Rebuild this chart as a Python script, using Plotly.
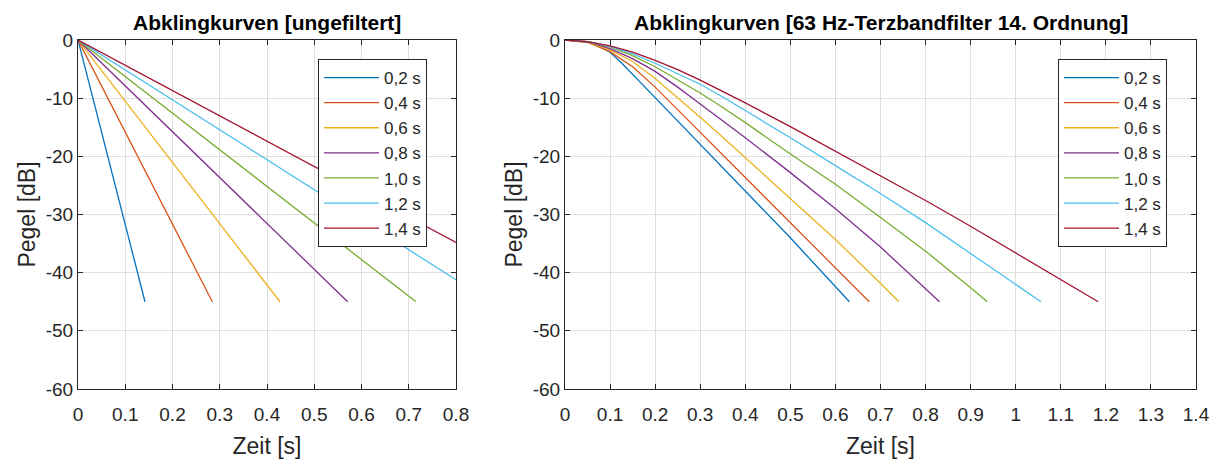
import plotly.graph_objects as go

# ---------------- data ----------------
labels = ["0,2 s", "0,4 s", "0,6 s", "0,8 s", "1,0 s", "1,2 s", "1,4 s"]

# left panel (unfiltered): straight decays from (0, 0) to the visible end point
raw_t_start = [0, 0, 0, 0, 0, 0, 0]
raw_L_start = [0, 0, 0, 0, 0, 0, 0]
raw_t_end = [0.1418, 0.2843, 0.4275, 0.5707, 0.7153, 0.8, 0.8]
raw_L_end = [-45, -45, -45, -45, -45, -41.2, -34.8]

# right panel (63 Hz third-octave filtered)
t_02 = [0, 0.025, 0.05, 0.075, 0.1, 0.125, 0.2, 0.3, 0.4, 0.5, 0.631]
L_02 = [0, -0.1, -0.4, -1.0, -2.1, -3.9, -9.9, -17.9, -25.9, -34.0, -45]
t_04 = [0, 0.05, 0.1, 0.15, 0.2, 0.25, 0.3, 0.35, 0.4, 0.5, 0.6, 0.675]
L_04 = [0, -0.4, -2.0, -4.6, -8.1, -12.0, -15.8, -19.7, -23.6, -31.4, -39.2, -45]
t_06 = [0, 0.05, 0.1, 0.15, 0.2, 0.25, 0.3, 0.35, 0.4, 0.5, 0.6, 0.676, 0.741]
L_06 = [0, -0.4, -1.7, -3.7, -6.6, -9.9, -13.3, -16.7, -20.2, -27.2, -34.3, -40, -45]
t_08 = [0, 0.05, 0.1, 0.15, 0.2, 0.25, 0.3, 0.35, 0.4, 0.5, 0.6, 0.7, 0.758, 0.831]
L_08 = [0, -0.3, -1.5, -3.2, -5.4, -8.1, -11.0, -13.9, -16.8, -22.8, -29.0, -35.6, -39.7, -45]
t_10 = [0, 0.05, 0.1, 0.15, 0.2, 0.25, 0.3, 0.35, 0.4, 0.5, 0.6, 0.7, 0.8, 0.9, 0.937]
L_10 = [0, -0.3, -1.2, -2.7, -4.6, -6.8, -9.1, -11.6, -14.2, -19.6, -24.8, -30.5, -36.3, -42.6, -45]
t_12 = [0, 0.05, 0.1, 0.15, 0.2, 0.25, 0.3, 0.35, 0.4, 0.45, 0.5, 0.6, 0.7, 0.8, 0.9, 1.0, 1.056]
L_12 = [0, -0.3, -1.1, -2.4, -4.0, -5.8, -7.6, -9.8, -12.1, -14.4, -16.8, -21.6, -26.4, -31.4, -36.7, -42.0, -45]
t_14 = [0, 0.05, 0.1, 0.15, 0.2, 0.25, 0.3, 0.35, 0.4, 0.5, 0.6, 0.7, 0.8, 0.895, 0.95, 1.074, 1.183]
L_14 = [0, -0.3, -1.0, -2.1, -3.5, -5.1, -6.9, -8.8, -10.8, -14.9, -19.1, -23.3, -27.6, -31.8, -34.3, -40, -45]

filt_t = [t_02, t_04, t_06, t_08, t_10, t_12, t_14]
filt_L = [L_02, L_04, L_06, L_08, L_10, L_12, L_14]

x_ticks_left = [0, 0.1, 0.2, 0.3, 0.4, 0.5, 0.6, 0.7, 0.8]
x_labels_left = ["0", "0.1", "0.2", "0.3", "0.4", "0.5", "0.6", "0.7", "0.8"]
x_ticks_right = [0, 0.1, 0.2, 0.3, 0.4, 0.5, 0.6, 0.7, 0.8, 0.9, 1.0, 1.1, 1.2, 1.3, 1.4]
x_labels_right = ["0", "0.1", "0.2", "0.3", "0.4", "0.5", "0.6", "0.7", "0.8", "0.9",
                  "1", "1.1", "1.2", "1.3", "1.4"]
y_ticks = [0, -10, -20, -30, -40, -50, -60]
y_labels = ["0", "-10", "-20", "-30", "-40", "-50", "-60"]

# ---------------- style ----------------
colors = ["#0072BD", "#D95319", "#EDB120", "#7E2F8E", "#77AC30", "#4DBEEE", "#A2142F"]
FONT = "Liberation Sans, Arial, Helvetica, sans-serif"
AX = "#262626"
GRID = "#dfdfdf"
OFF = 8                      # default page body margin of the html page
VW, VH = 1217, 459           # viewport size
W, H = VW - OFF, VH - OFF    # figure size
# plot-area edges in viewport pixels
X0, X1, Y0, Y1 = 78, 1196, 40, 389
ML, MR, MT, MB = X0 - OFF, VW - X1, Y0 - OFF, VH - Y1
PW, PH = W - ML - MR, H - MT - MB


def px(xp):  # viewport x pixel -> paper coordinate
    return (xp - X0) / PW


def py(yp):  # viewport y pixel -> paper coordinate
    return (Y1 - yp) / PH


fig = go.Figure()

for i, lab in enumerate(labels):
    fig.add_trace(go.Scatter(
        x=[raw_t_start[i], raw_t_end[i]], y=[raw_L_start[i], raw_L_end[i]],
        mode="lines", name=lab, line=dict(color=colors[i], width=1.3),
        xaxis="x", yaxis="y", legend="legend"))

for i, lab in enumerate(labels):
    fig.add_trace(go.Scatter(
        x=filt_t[i], y=filt_L[i],
        mode="lines", name=lab, line=dict(color=colors[i], width=1.3),
        xaxis="x2", yaxis="y2", legend="legend2"))


def xax(domain, rng, tv, tt, anchor):
    return dict(domain=domain, range=rng, tickvals=tv, ticktext=tt, anchor=anchor,
                automargin=False,
                showline=True, linecolor=AX, linewidth=1, mirror="ticks",
                ticks="inside", ticklen=5, tickcolor=AX, ticklabelstandoff=8,
                showgrid=True, gridcolor=GRID, gridwidth=1, zeroline=False,
                tickfont=dict(family=FONT, size=19, color=AX),
                title=dict(text="Zeit [s]", font=dict(family=FONT, size=23, color=AX), standoff=14))


def yax(anchor):
    return dict(domain=[0, 1], range=[-60, 0], tickvals=y_ticks, ticktext=y_labels,
                anchor=anchor, automargin=False,
                showline=True, linecolor=AX, linewidth=1, mirror="ticks",
                ticks="inside", ticklen=5, tickcolor=AX,
                showgrid=True, gridcolor=GRID, gridwidth=1, zeroline=False,
                tickfont=dict(family=FONT, size=19, color=AX),
                title=dict(text="Pegel [dB]", font=dict(family=FONT, size=23, color=AX), standoff=3))


leg_common = dict(bgcolor="white", bordercolor=AX, borderwidth=1,
                  font=dict(family=FONT, size=17, color=AX),
                  xanchor="left", yanchor="top", tracegroupgap=0, itemwidth=55)

fig.update_layout(
    width=W, height=H,
    margin=dict(l=ML, r=MR, t=MT, b=MB, autoexpand=False),
    paper_bgcolor="white", plot_bgcolor="white",
    showlegend=True,
    xaxis=xax([0, px(456)], [0, 0.8], x_ticks_left, x_labels_left, "y"),
    yaxis=yax("x"),
    xaxis2=xax([px(565), 1], [0, 1.4], x_ticks_right, x_labels_right, "y2"),
    yaxis2=yax("x2"),
    legend=dict(x=px(318), y=py(59), **leg_common),
    legend2=dict(x=px(1058), y=py(59), **leg_common),
    annotations=[
        dict(text="<b>Abklingkurven [ungefiltert]</b>", xref="paper", yref="paper",
             x=px(267), y=py(22), xanchor="center", yanchor="middle", showarrow=False,
             font=dict(family=FONT, size=21, color="black")),
        dict(text="<b>Abklingkurven [63 Hz-Terzbandfilter 14. Ordnung]</b>", xref="paper", yref="paper",
             x=px(880.5), y=py(22), xanchor="center", yanchor="middle", showarrow=False,
             font=dict(family=FONT, size=21, color="black")),
    ],
)

fig.write_html("out.html")
